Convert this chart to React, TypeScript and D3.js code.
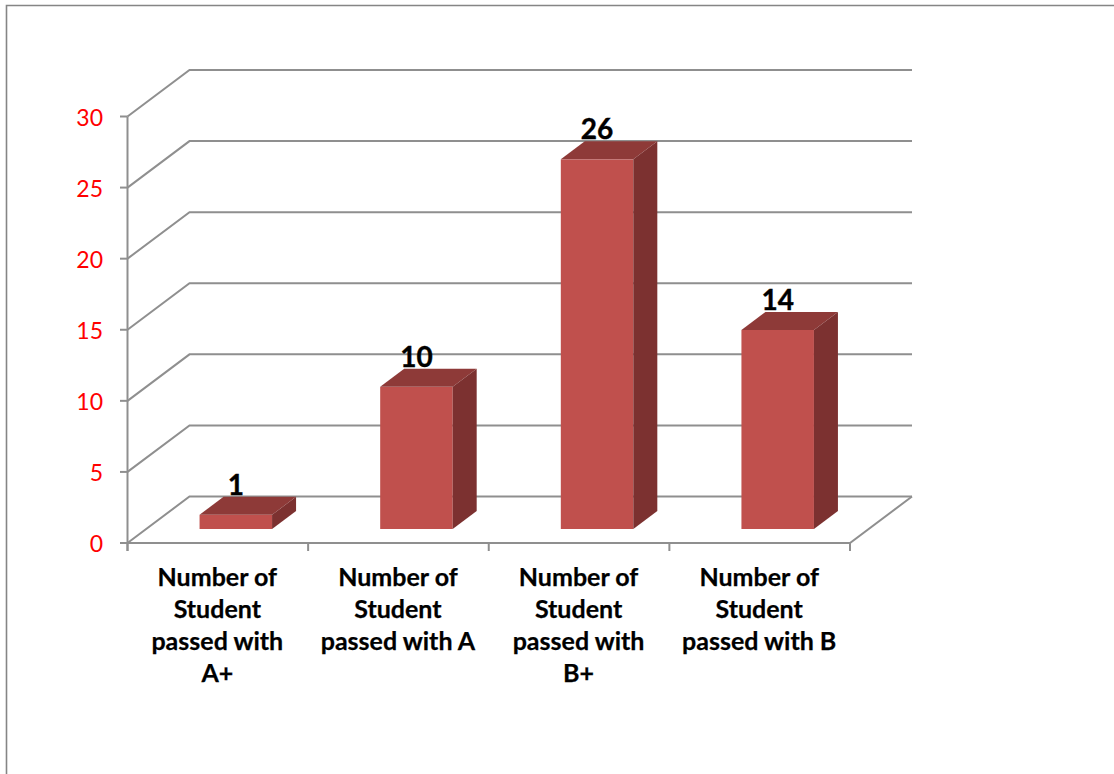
import React from "react";
import * as d3 from "d3";

const categories = [
  ["Number of", "Student", "passed with", "A+"],
  ["Number of", "Student", "passed with A"],
  ["Number of", "Student", "passed with", "B+"],
  ["Number of", "Student", "passed with B"],
];
const values = [1, 10, 26, 14];
const yTicks = [0, 5, 10, 15, 20, 25, 30];

const FONT = "Lato, 'Open Sans', sans-serif";
const GRID = "#8f8f8f";
const FRONT = "#c0504d";
const TOP = "#8e3a38";
const SIDE = "#7c3130";

const depthX = 62;
const depthY = 46.5;
const barDX = 24;
const barDY = 18;
const floorDX = 18;
const floorDY = 14;

export default function App() {
  const y = d3.scaleLinear().domain([0, 30]).range([543, 116.5]);
  const x = d3.scaleBand<number>().domain(d3.range(values.length)).range([127.5, 850]).paddingInner(0).paddingOuter(0);
  const bw = 72.5;
  const gridPath = (v: number) =>
    `M${x.range()[0]},${y(v)}L${x.range()[0] + depthX},${y(v) - depthY}L${x.range()[1] + depthX},${y(v) - depthY}`;
  return (
    <svg width={1114} height={774} style={{ position: "absolute", left: 0, top: 0, background: "#fff" }}>
      <path d="M6.5,774V5.5H1114" fill="none" stroke="#858585" strokeWidth={1.6} />
      {yTicks.map((t) => (
        <g key={t}>
          <path d={gridPath(t)} fill="none" stroke={GRID} strokeWidth={2} />
          <line x1={120} x2={127.5} y1={y(t)} y2={y(t)} stroke={GRID} strokeWidth={2} />
          <text x={103} y={y(t) + 9} textAnchor="end" fill="#ff0000" fontFamily={FONT} fontSize={23}>
            {t}
          </text>
        </g>
      ))}
      <path
        d={`M${x.range()[0]},${y(0)}L${x.range()[1]},${y(0)}L${x.range()[1] + depthX},${y(0) - depthY}`}
        fill="none"
        stroke={GRID}
        strokeWidth={2}
      />
      <line x1={127.5} x2={127.5} y1={y(30)} y2={551} stroke={GRID} strokeWidth={2} />
      {d3.range(values.length + 1).map((i) => {
        const px = x.range()[0] + i * x.bandwidth();
        return <line key={i} x1={px} x2={px} y1={543} y2={551} stroke={GRID} strokeWidth={2} />;
      })}
      {values.map((v, i) => {
        const x0 = x(i)! + (x.bandwidth() - bw) / 2 + floorDX;
        const x1 = x0 + bw;
        const yb = y(0) - floorDY;
        const yt = y(v) - floorDY;
        return (
          <g key={i}>
            <rect x={x0} y={yt} width={bw} height={yb - yt} fill={FRONT} />
            <path d={`M${x0},${yt}L${x0 + barDX},${yt - barDY}L${x1 + barDX},${yt - barDY}L${x1},${yt}Z`} fill={TOP} />
            <path d={`M${x1},${yt}L${x1 + barDX},${yt - barDY}L${x1 + barDX},${yb - barDY}L${x1},${yb}Z`} fill={SIDE} />
            <text x={(x0 + x1) / 2} y={yt - 20} textAnchor="middle" fontFamily={FONT} fontWeight={700} fontSize={28} stroke="#000" strokeWidth={0.4} fill="#000">
              {v}
            </text>
          </g>
        );
      })}
      {categories.map((lines, i) => (
        <text key={i} textAnchor="middle" fontFamily={FONT} fontWeight={700} fontSize={25} stroke="#000" strokeWidth={0.25} fill="#000">
          {lines.map((l, j) => (
            <tspan key={j} x={x(i)! + x.bandwidth() / 2 - 0.5} y={585.5 + j * 32.3}>
              {l}
            </tspan>
          ))}
        </text>
      ))}
    </svg>
  );
}
